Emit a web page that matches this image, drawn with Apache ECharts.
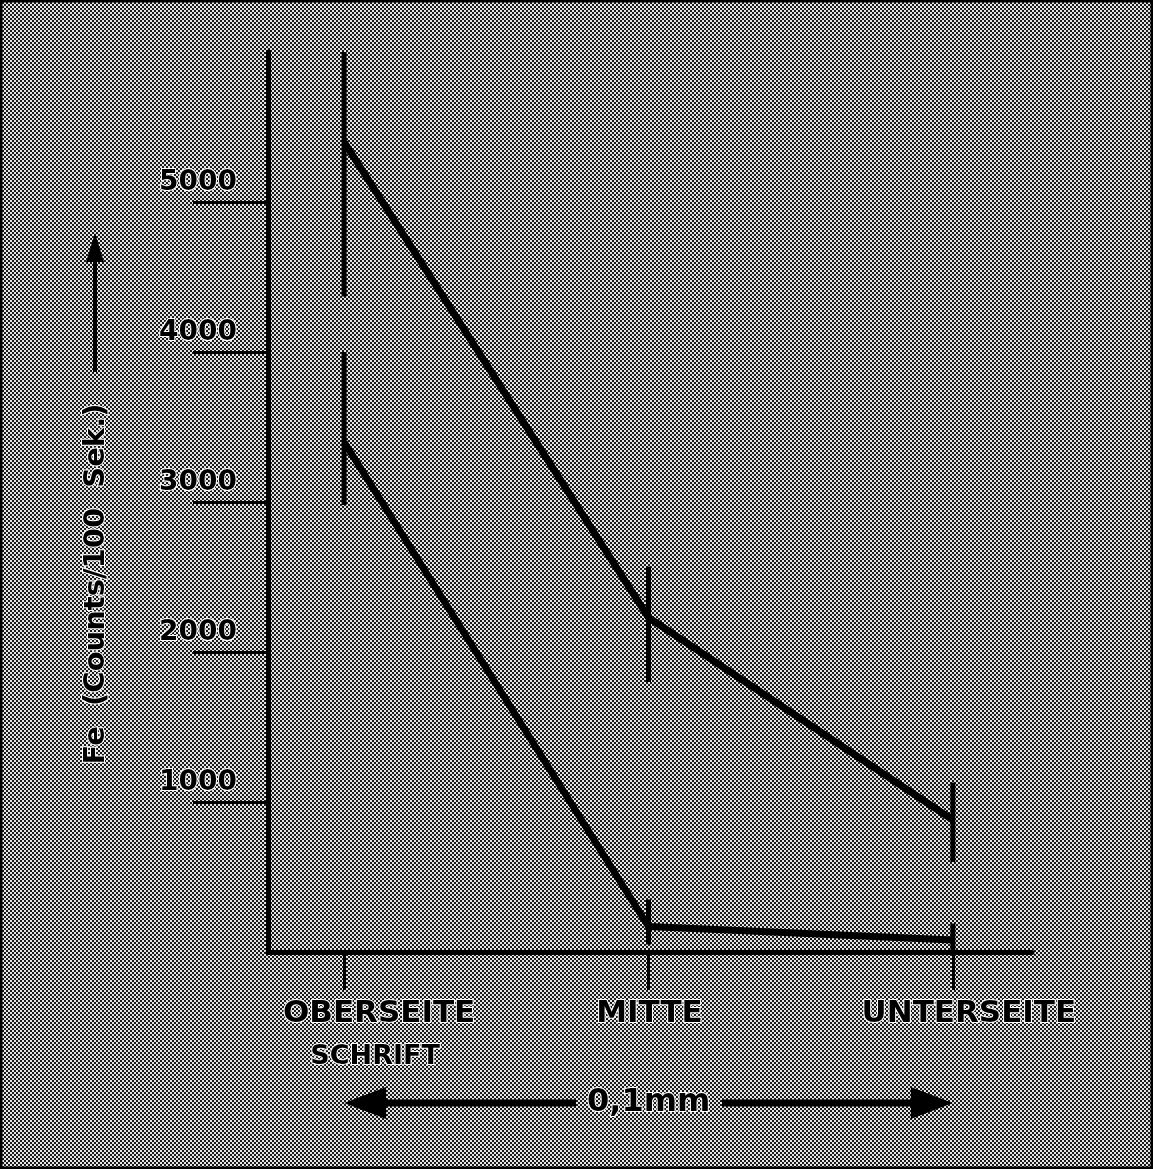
<!DOCTYPE html>
<html>
<head>
<meta charset="utf-8">
<script src="https://cdn.jsdelivr.net/npm/echarts@6/dist/echarts.min.js"></script>
<style>
html,body{margin:0;padding:0;background:#8c8c8c;}
#chart{width:1153px;height:1169px;}
</style>
</head>
<body>
<div id="chart"></div>
<script>
// ---- data ----
const categories = ['OBERSEITE', 'MITTE', 'UNTERSEITE'];
const subLabel = 'SCHRIFT';
const upperValues = [5400, 2230, 880];
const lowerValues = [3400, 170, 80];
const upperErrLow = [4370, 1800, 600];
const upperErrHigh = [6000, 2570, 1130];
const lowerErrLow = [2980, 50, 10];
const lowerErrHigh = [4000, 350, 190];
const yTicks = [1000, 2000, 3000, 4000, 5000];
const yTitle = 'Fe  (Counts/100  Sek.)';
const scaleLabel = '0,1mm';

// checkerboard halftone pattern
const pc = document.createElement('canvas');
pc.width = 4; pc.height = 4;
const pctx = pc.getContext('2d');
pctx.fillStyle = '#e6e6e6'; pctx.fillRect(0, 0, 4, 4);
pctx.fillStyle = '#1a1a1a'; pctx.fillRect(0, 0, 2, 2); pctx.fillRect(2, 2, 2, 2);

const chart = echarts.init(document.getElementById('chart'), null, {renderer: 'canvas'});
const FONT = '"DejaVu Sans", "Liberation Sans", sans-serif';

function errData(lo, hi) { return categories.map((c, i) => [i, lo[i], hi[i]]); }
function lineData(v) { return categories.map((c, i) => [i, v[i]]); }
function renderErr(params, api) {
  const x = api.value(0);
  const p1 = api.coord([x, api.value(1)]);
  const p2 = api.coord([x, api.value(2)]);
  return {type: 'line', shape: {x1: p1[0], y1: p1[1], x2: p2[0], y2: p2[1]},
          style: {stroke: '#000', lineWidth: 5}};
}

const option = {
  animation: false,
  backgroundColor: '#8c8c8c',
  grid: {left: 268, right: 121, top: 52, bottom: 217, containLabel: false},
  xAxis: {
    type: 'value', min: -0.25, max: 2.26,
    splitLine: {show: false},
    axisLine: {show: true, onZero: false, lineStyle: {color: '#000', width: 5}},
    axisTick: {show: true, customValues: [0, 1, 2], length: 38, inside: false, lineStyle: {color: '#000', width: 3}},
    axisLabel: {
      show: true, customValues: [0, 1, 2], margin: 42, fontFamily: FONT,
      formatter: function (v) {
        const i = Math.round(v);
        if (i === 0) return '{a|' + categories[0] + '}\n{c|' + subLabel + '}';
        if (i === 1) return '{m|' + categories[1] + '}';
        return '{u|' + categories[2] + '}';
      },
      rich: {
        a: {fontFamily: FONT, fontSize: 31, fontWeight: 'bold', color: '#000', lineHeight: 40, padding: [0, 0, 0, 70], textBorderColor: '#fff', textBorderWidth: 2},
        c: {fontFamily: FONT, fontSize: 27, fontWeight: 'bold', color: '#000', lineHeight: 46, padding: [0, 0, 0, 62], textBorderColor: '#fff', textBorderWidth: 2},
        m: {fontFamily: FONT, fontSize: 31, fontWeight: 'bold', color: '#000', lineHeight: 40, padding: [0, 0, 0, 2], textBorderColor: '#fff', textBorderWidth: 2},
        u: {fontFamily: FONT, fontSize: 31, fontWeight: 'bold', color: '#000', lineHeight: 40, padding: [0, 0, 0, 32], textBorderColor: '#fff', textBorderWidth: 2}
      }
    }
  },
  yAxis: {
    type: 'value', min: 0, max: 6000,
    splitLine: {show: false},
    axisLine: {show: true, onZero: false, lineStyle: {color: '#000', width: 5}},
    axisTick: {show: true, customValues: yTicks, length: 75, lineStyle: {color: '#000', width: 3}},
    axisLabel: {
      show: true, customValues: yTicks, margin: 31, verticalAlign: 'bottom',
      padding: [0, 0, 5, 0],
      formatter: function (v) { return String(v); },
      fontFamily: FONT, fontSize: 28, fontWeight: 'bold', color: '#000',
      textBorderColor: '#fff', textBorderWidth: 2
    }
  },
  series: [
    {type: 'line', data: lineData(upperValues), symbol: 'none', lineStyle: {color: '#000', width: 7}, z: 5},
    {type: 'line', data: lineData(lowerValues), symbol: 'none', lineStyle: {color: '#000', width: 7}, z: 5},
    {type: 'custom', data: errData(upperErrLow, upperErrHigh), renderItem: renderErr, encode: {x: 0, y: [1, 2]}, z: 6},
    {type: 'custom', data: errData(lowerErrLow, lowerErrHigh), renderItem: renderErr, encode: {x: 0, y: [1, 2]}, z: 6}
  ]
};
chart.setOption(option);

// decorations positioned via the axes' scales
const x0 = chart.convertToPixel({xAxisIndex: 0}, 0);
const x1 = chart.convertToPixel({xAxisIndex: 0}, 1);
const x2 = chart.convertToPixel({xAxisIndex: 0}, 2);
const ay = 1103;
chart.setOption({
  graphic: [
    {type: 'rect', z: -100, silent: true, shape: {x: 0, y: 0, width: 1153, height: 1169},
     style: {fill: {image: pc, repeat: 'repeat'}}},
    {type: 'rect', z: 100, silent: true, shape: {x: 1, y: 1, width: 1151, height: 1167},
     style: {fill: null, stroke: '#000', lineWidth: 3}},
    // y-axis title with arrow
    {type: 'text', z: 50, x: 96, y: 584, rotation: Math.PI / 2,
     style: {text: yTitle, fontFamily: FONT, fontSize: 29, fontWeight: 'bold', fill: '#000',
             align: 'center', verticalAlign: 'middle', stroke: '#fff', lineWidth: 2}},
    {type: 'line', z: 50, shape: {x1: 95, y1: 372, x2: 95, y2: 255}, style: {stroke: '#000', lineWidth: 4}},
    {type: 'polygon', z: 50, shape: {points: [[95, 233], [86, 262], [104, 262]]}, style: {fill: '#000'}},
    // bottom double arrow
    {type: 'line', z: 50, shape: {x1: x0 + 35, y1: ay, x2: 576, y2: ay}, style: {stroke: '#000', lineWidth: 7}},
    {type: 'line', z: 50, shape: {x1: 722, y1: ay, x2: x2 - 35, y2: ay}, style: {stroke: '#000', lineWidth: 7}},
    {type: 'polygon', z: 50, shape: {points: [[x0, ay], [x0 + 42, ay - 16], [x0 + 42, ay + 16]]}, style: {fill: '#000'}},
    {type: 'polygon', z: 50, shape: {points: [[x2, ay], [x2 - 42, ay - 16], [x2 - 42, ay + 16]]}, style: {fill: '#000'}},
    {type: 'text', z: 50, x: (x1 + 649) / 2, y: ay,
     style: {text: scaleLabel, fontFamily: FONT, fontSize: 32, fontWeight: 'bold', fill: '#000',
             align: 'center', verticalAlign: 'middle', stroke: '#fff', lineWidth: 2}}
  ]
});
</script>
</body>
</html>
